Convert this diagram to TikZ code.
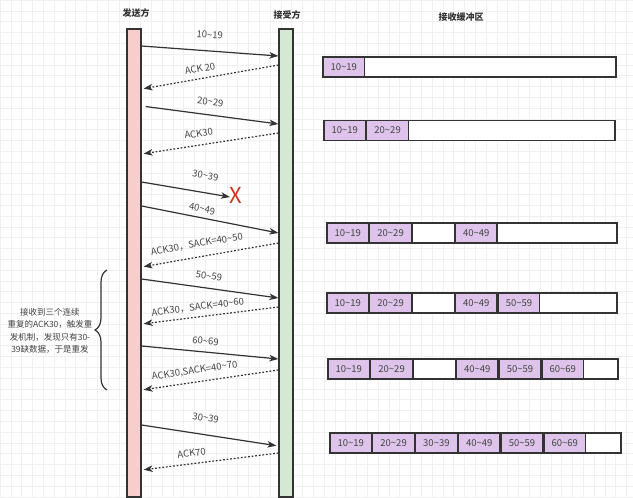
\documentclass[tikz,border=0pt]{standalone}
\usepackage{fontspec}
\setmainfont{Noto Sans CJK SC}
\usepackage{tikz}
\usetikzlibrary{arrows.meta}
\usetikzlibrary{positioning, decorations.pathreplacing}

\definecolor{linec}{RGB}{51,51,51}
\definecolor{txtc}{RGB}{68,68,68}
\definecolor{sndfill}{RGB}{248,206,204}
\definecolor{rcvfill}{RGB}{213,232,212}
\definecolor{segfill}{RGB}{222,196,234}
\definecolor{gridc}{RGB}{240,240,240}
\definecolor{lossc}{RGB}{214,52,34}

\newcommand{\til}{\textasciitilde}

\tikzset{
    lane/.style = {draw=linec, line width=1.2pt, minimum width=14pt, minimum height=468pt, inner sep=0pt},
    sndlane/.style = {lane, fill=sndfill},
    rcvlane/.style = {lane, fill=rcvfill},
    head/.style = {text=linec, font=\fontsize{9}{10}\selectfont\bfseries},
    data/.style = {draw=linec, line width=1.2pt, -{Stealth[length=9pt, width=6.5pt, inset=2.5pt]}},
    ack/.style = {data, dash pattern=on 1.8pt off 1.8pt, shorten >=2pt},
    lbl/.style = {text=txtc, font=\fontsize{9.5}{10}\selectfont, sloped, inner sep=0pt},
    buf/.style = {draw=linec, fill=white, line width=1.2pt, minimum height=20pt, inner sep=0pt},
    seg/.style = {buf, fill=segfill, minimum width=41.6pt, text=txtc, font=\fontsize{9.5}{10}\selectfont},
    hole/.style = {seg, fill=white},
}

\begin{document}
\begin{tikzpicture}[x=1pt, y=-1pt]
    \useasboundingbox (0,0) rectangle (633,498);
    \fill[white] (0,0) rectangle (633,498);
    \draw[gridc, line width=0.6pt, step=10.8pt] (0,0) grid (633,498);

    % the two ends
    \node[head] (sndname) at (136,13) {发送方};
    \node[head] (rcvname) at (287,15) {接受方};
    \node[head] (bufname) at (461,17) {接收缓冲区};
    \node[sndlane] (snd) at (134,263) {};
    \node[rcvlane] (rcv) at (286,263) {};

    % segments and acks
    \draw[data] (snd.east |- 0,46) -- node[lbl, pos=.49, above=12pt] {10\til19} (rcv.west |- 0,56);
    \draw[ack] (rcv.west |- 0,65) -- node[lbl, pos=.56, above=6pt] {ACK 20} (snd.east |- 0,89);
    \draw[data, shorten <=4pt] (snd.east |- 0,106) -- node[lbl, pos=.49, above=9pt] {20\til29} (rcv.west |- 0,124);
    \draw[ack] (rcv.west |- 0,133) -- node[lbl, pos=.57, above=7.5pt] {ACK30} (snd.east |- 0,154);

    \coordinate (lost) at (230,197);
    \draw[data] (snd.east |- 0,182) -- node[lbl, pos=.69, above=13pt] {30\til39} (lost);
    \node[text=lossc, font=\fontsize{22}{22}\selectfont] (cross) at (235.5,195) {X};

    \draw[data] (snd.east |- 0,206) -- node[lbl, pos=.43, above=4.5pt] {40\til49} (rcv.west |- 0,233);
    \draw[ack] (rcv.west |- 0,243) -- node[lbl, pos=.58, above=8pt] {ACK30，SACK=40\til50} (snd.east |- 0,267);
    \draw[data] (snd.east |- 0,279) -- node[lbl, pos=.48, above=8pt] {50\til59} (rcv.west |- 0,298);
    \draw[ack] (rcv.west |- 0,307) -- node[lbl, pos=.58, above=5pt] {ACK30，SACK=40\til60} (snd.east |- 0,324);
    \draw[data] (snd.east |- 0,346) -- node[lbl, pos=.46, above=7pt] {60\til69} (rcv.west |- 0,359);
    \draw[ack] (rcv.west |- 0,370) -- node[lbl, pos=.6, above=6pt] {ACK30,SACK=40\til70} (snd.east |- 0,390);
    \draw[data, shorten >=2pt] (snd.east |- 0,425) -- node[lbl, pos=.45, above=12.5pt] {30\til39} (rcv.west |- 0,446);
    \draw[ack] (rcv.west |- 0,453) -- node[lbl, pos=.625, above=6.5pt] {ACK70} (snd.east |- 0,470);

    % three dup acks
    \coordinate (brtop) at (107,270);
    \coordinate (brbot) at (107,390);
    \draw[linec, line width=1.2pt, decorate, decoration={brace, amplitude=12pt, aspect=.5}] (brbot) -- (brtop);
    \node[text=txtc, font=\fontsize{8.5}{12.5}\selectfont, align=center] (note) at (50,331)
        {接收到三个连续\\重复的ACK30，触发重\\发机制，发现只有30-\\39缺数据，于是重发};

    % receive buffer
    \node[buf, minimum width=293pt] (r1) at (469.5,67) {};
    \node[seg, anchor=west] (r1a) at (r1.west) {10\til19};

    \node[buf, minimum width=291pt] (r2) at (469.5,130.5) {};
    \node[seg, anchor=west] (r2a) at (r2.west) {10\til19};
    \node[seg, right=0pt of r2a] (r2b) {20\til29};

    \node[buf, minimum width=290pt] (r3) at (472,233) {};
    \node[seg, anchor=west] (r3a) at (r3.west) {10\til19};
    \node[seg, right=0pt of r3a] (r3b) {20\til29};
    \node[hole, right=0pt of r3b] (r3c) {};
    \node[seg, right=0pt of r3c] (r3d) {40\til49};

    \node[buf, minimum width=290pt] (r4) at (472,303) {};
    \node[seg, anchor=west] (r4a) at (r4.west) {10\til19};
    \node[seg, right=0pt of r4a] (r4b) {20\til29};
    \node[hole, right=0pt of r4b] (r4c) {};
    \node[seg, right=0pt of r4c] (r4d) {40\til49};
    \node[seg, right=0pt of r4d] (r4e) {50\til59};

    \node[buf, minimum width=290pt] (r5) at (473,369) {};
    \node[seg, anchor=west] (r5a) at (r5.west) {10\til19};
    \node[seg, right=0pt of r5a] (r5b) {20\til29};
    \node[hole, right=0pt of r5b] (r5c) {};
    \node[seg, right=0pt of r5c] (r5d) {40\til49};
    \node[seg, right=0pt of r5d] (r5e) {50\til59};
    \node[seg, right=0pt of r5e] (r5f) {60\til69};

    \node[buf, minimum width=291pt] (r6) at (475.5,443) {};
    \node[seg, anchor=west] (r6a) at (r6.west) {10\til19};
    \node[seg, right=0pt of r6a] (r6b) {20\til29};
    \node[seg, right=0pt of r6b] (r6c) {30\til39};
    \node[seg, right=0pt of r6c] (r6d) {40\til49};
    \node[seg, right=0pt of r6d] (r6e) {50\til59};
    \node[seg, right=0pt of r6e] (r6f) {60\til69};
\end{tikzpicture}
\end{document}
